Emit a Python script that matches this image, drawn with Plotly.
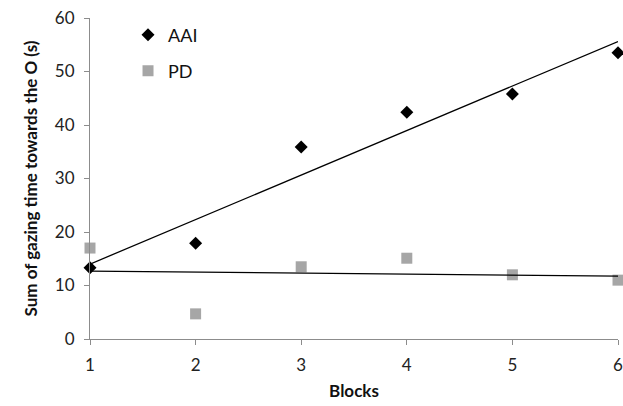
import numpy as np
import plotly.graph_objects as go

blocks = [1, 2, 3, 4, 5, 6]
aai = [13.3, 17.9, 35.9, 42.4, 45.8, 53.5]
pd_vals = [17.0, 4.7, 13.5, 15.1, 12.0, 11.0]
y_ticks = [0, 10, 20, 30, 40, 50, 60]

def fit(x, y):
    m, b = np.polyfit(x, y, 1)
    xs = [min(x), max(x)]
    return xs, [m * v + b for v in xs]

FONT = "Lato, Open Sans, DejaVu Sans, sans-serif"

fig = go.Figure()
fig.add_trace(go.Scatter(x=blocks, y=pd_vals, mode="markers", name="PD", cliponaxis=False,
                         marker=dict(symbol="square", size=11, color="#a6a6a6"),
                         legend="legend2"))
fig.add_trace(go.Scatter(x=blocks, y=aai, mode="markers", name="AAI", cliponaxis=False,
                         marker=dict(symbol="diamond", size=10, color="black"),
                         legend="legend"))
for ys in (aai, pd_vals):
    xs, yl = fit(blocks, ys)
    fig.add_trace(go.Scatter(x=xs, y=yl, mode="lines", showlegend=False, cliponaxis=False,
                             line=dict(color="black", width=1.3)))

axis_common = dict(showgrid=False, zeroline=False, showline=True, linecolor="#8c8c8c",
                   linewidth=1, ticks="outside", tickcolor="#8c8c8c", ticklen=5,
                   ticklabelstandoff=6, ticklabeloverflow="allow", automargin=False,
                   tickfont=dict(size=17, color="#222", family=FONT))
fig.update_xaxes(range=[1, 6], tickvals=blocks, ticktext=[str(b) for b in blocks],
                 title=dict(text="<b>Blocks</b>", font=dict(size=17, color="#111", family=FONT), standoff=10),
                 **axis_common)
fig.update_yaxes(range=[0, 60], tickvals=y_ticks,
                 title=dict(text="<b>Sum of gazing time towards the O (s)</b>",
                            font=dict(size=17, color="#111", family=FONT), standoff=12),
                 **axis_common)

leg = dict(bgcolor="rgba(0,0,0,0)", font=dict(size=18, color="#111", family=FONT),
           xanchor="left", yanchor="middle", itemwidth=30)
fig.update_layout(
    width=623, height=406,
    margin=dict(l=90, r=5, t=18, b=67, autoexpand=False),
    paper_bgcolor="white", plot_bgcolor="white",
    legend=dict(x=0.072, y=0.947, **leg),
    legend2=dict(x=0.072, y=0.835, **leg),
    font=dict(family=FONT),
)
fig.write_html("out.html", config={"displayModeBar": False},
               post_script="document.body.style.margin='0';document.body.style.overflow='hidden';")
